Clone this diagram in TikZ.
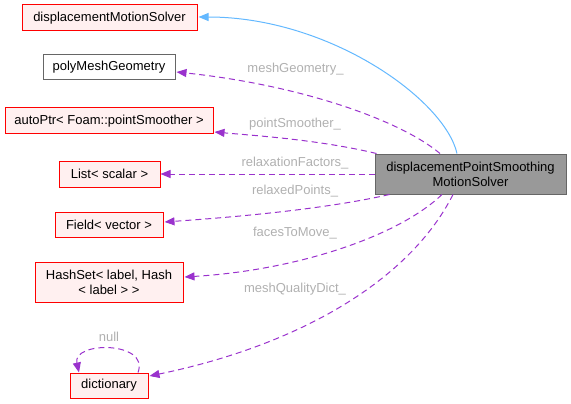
\documentclass[tikz,border=0pt]{standalone}
\usepackage{fontspec}
\setmainfont{Liberation Sans}
\usetikzlibrary{arrows.meta,calc}
\definecolor{redb}{HTML}{FF0000}
\definecolor{redf}{HTML}{FFF0F0}
\definecolor{grayb}{HTML}{666666}
\definecolor{mainf}{HTML}{999999}
\definecolor{bluel}{HTML}{63B8FF}
\definecolor{purp}{HTML}{9A32CD}
\definecolor{lbl}{HTML}{B0B0B0}
\tikzset{
  cls/.style={draw=redb, fill=redf, line width=1pt, inner sep=0pt, align=center, font=\fontsize{13}{15}\selectfont},
  plain/.style={draw=grayb, fill=white, line width=1pt, inner sep=0pt, align=center, font=\fontsize{13}{15}\selectfont},
  mainnode/.style={draw=grayb, fill=mainf, line width=1pt, inner sep=0pt, align=center, font=\fontsize{13}{15}\selectfont},
  inh/.style={draw=bluel, line width=1pt, -{Triangle[length=10pt,width=8pt,fill=bluel]}},
  use/.style={draw=purp, line width=1pt, dash pattern=on 6pt off 4pt, -{Triangle[length=10pt,width=8pt,fill=purp]}},
  elabel/.style={text=lbl, font=\fontsize{13}{15}\selectfont, inner sep=0pt}
}
\begin{document}
\begin{tikzpicture}[x=1pt,y=-1pt]
\useasboundingbox (0,0) rectangle (571,404);
\node[cls, minimum width=175pt, minimum height=26pt] (dms) at (109.5,18) {displacementMotionSolver};
\node[plain, minimum width=132pt, minimum height=25pt] (pmg) at (109,67.5) {polyMeshGeometry};
\node[cls, minimum width=208pt, minimum height=26pt] (ap) at (109,121) {autoPtr< Foam::pointSmoother >};
\node[cls, minimum width=101pt, minimum height=26pt] (ls) at (109.5,174) {List< scalar >};
\node[cls, minimum width=108pt, minimum height=25pt] (fv) at (109,224.5) {Field< vector >};
\node[cls, minimum width=148pt, minimum height=40pt] (hs) at (109,282) {HashSet< label, Hash\\< label > >};
\node[cls, minimum width=78pt, minimum height=25pt] (dict) at (109,385.5) {dictionary};
\node[mainnode, minimum width=191pt, minimum height=40pt] (main) at (470.5,174) {displacementPointSmoothing\\MotionSolver};

% inheritance
\draw[inh] ($(main.north)+(-13.5,0)$) .. controls (445,100) and (330,17) .. ($(dms.east)+(1,-1)$);
% members
\draw[use] ($(main.north)+(-30.5,0)$) .. controls (400,120) and (300,85) .. ($(pmg.east)+(1,4.5)$);
\draw[use] ($(main.north west)+(2,0)$) .. controls (320,140) and (260,136) .. ($(ap.east)+(1,11)$);
\draw[use] (main.west) -- (ls.east);
\draw[use] ($(main.south west)+(15,0)$) .. controls (330,208) and (250,216) .. ($(fv.east)+(1,-2.5)$);
\draw[use] ($(main.south)+(-28.5,0)$) .. controls (400,235) and (300,270) .. ($(hs.east)+(1,-5)$);
\draw[use] ($(main.south)+(-17.5,0)$) .. controls (410,280) and (300,345) .. ($(dict.east)+(1,-9.5)$);
\draw[use] ($(dict.north)+(29,0)$) .. controls (150,341) and (72,341) .. ($(dict.north)+(-30,0)$);

\node[elabel] (l1) at (295.5,69) {meshGeometry\_};
\node[elabel] (l2) at (295,124) {pointSmoother\_};
\node[elabel] (l3) at (295,163) {relaxationFactors\_};
\node[elabel] (l4) at (295,191) {relaxedPoints\_};
\node[elabel] (l5) at (295,233) {facesToMove\_};
\node[elabel] (l6) at (295,289) {meshQualityDict\_};
\node[elabel] (l7) at (109,337) {null};
\end{tikzpicture}
\end{document}
